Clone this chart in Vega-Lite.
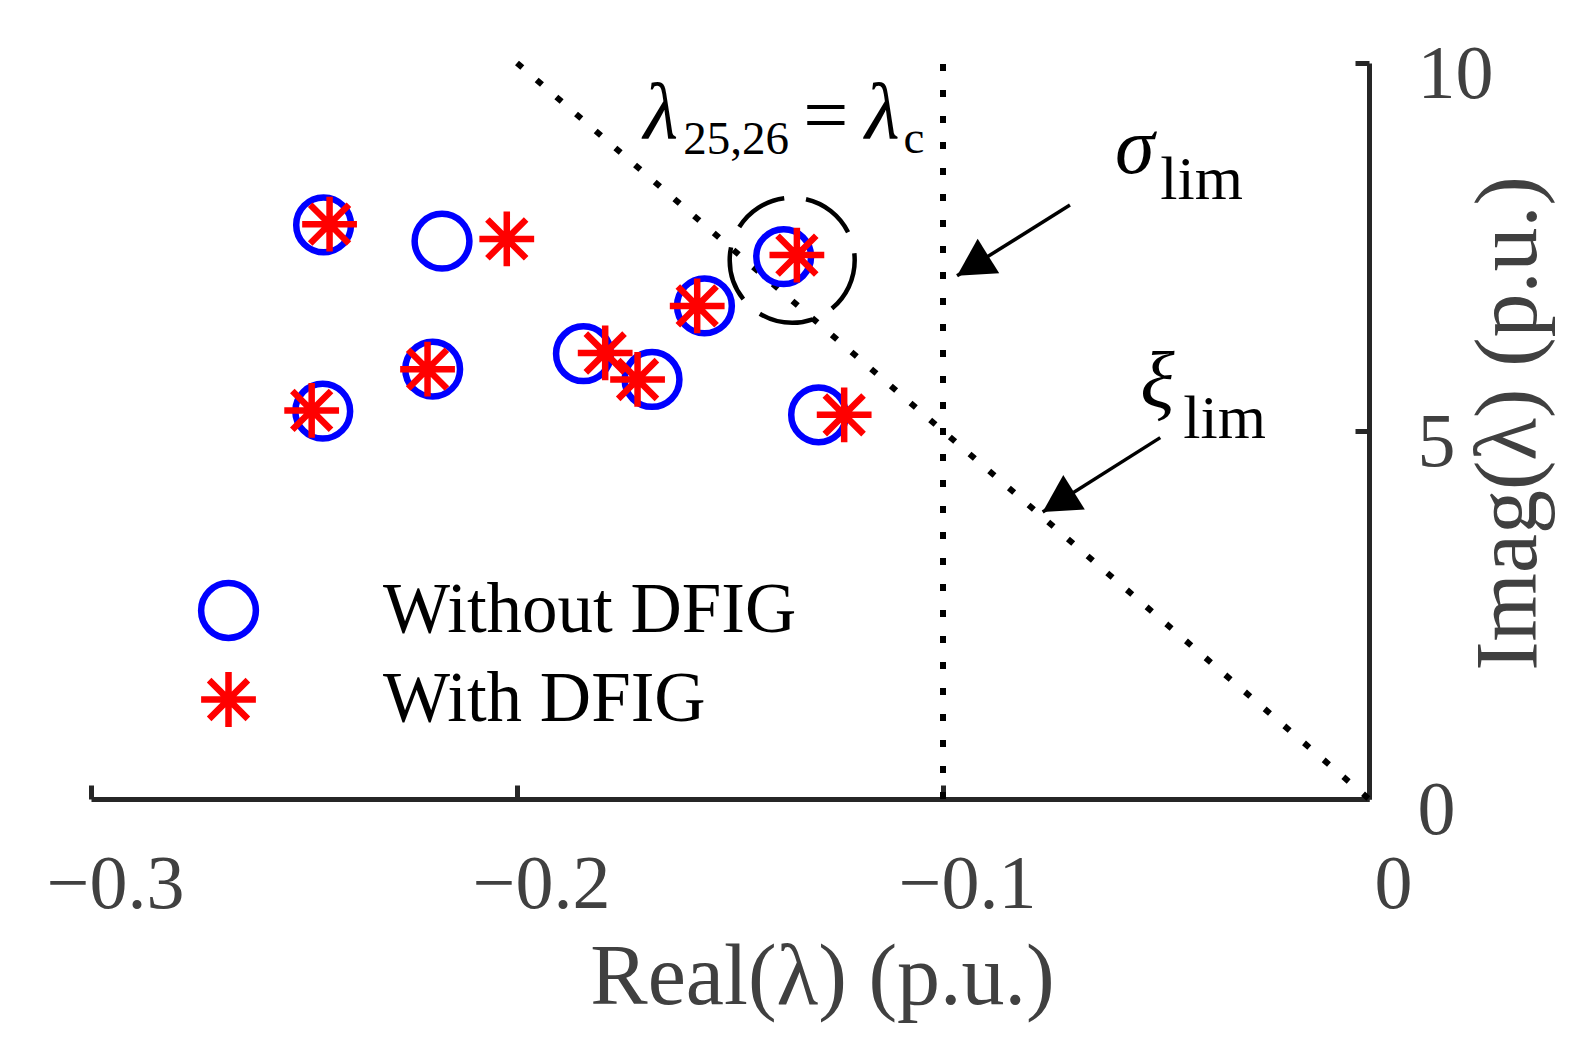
{
  "$schema": "https://vega.github.io/schema/vega-lite/v6.json",
  "width": 1278,
  "height": 736,
  "autosize": {"type": "none"},
  "padding": {"left": 91, "top": 63, "right": 226, "bottom": 261},
  "background": "white",
  "config": {"view": {"stroke": null}, "font": "Liberation Serif"},
  "datasets": {
    "eig": [
      {"series": "Without DFIG", "re": -0.2454, "im": 7.80},
      {"series": "Without DFIG", "re": -0.2176, "im": 7.58},
      {"series": "Without DFIG", "re": -0.2198, "im": 5.84},
      {"series": "Without DFIG", "re": -0.2456, "im": 5.27},
      {"series": "Without DFIG", "re": -0.1844, "im": 6.05},
      {"series": "Without DFIG", "re": -0.1683, "im": 5.70},
      {"series": "Without DFIG", "re": -0.1560, "im": 6.70},
      {"series": "Without DFIG", "re": -0.1374, "im": 7.37},
      {"series": "Without DFIG", "re": -0.1292, "im": 5.22},
      {"series": "With DFIG", "re": -0.2440, "im": 7.81},
      {"series": "With DFIG", "re": -0.2024, "im": 7.61},
      {"series": "With DFIG", "re": -0.2210, "im": 5.84},
      {"series": "With DFIG", "re": -0.2482, "im": 5.28},
      {"series": "With DFIG", "re": -0.1793, "im": 6.06},
      {"series": "With DFIG", "re": -0.1717, "im": 5.70},
      {"series": "With DFIG", "re": -0.1577, "im": 6.70},
      {"series": "With DFIG", "re": -0.1343, "im": 7.39},
      {"series": "With DFIG", "re": -0.1232, "im": 5.22}
    ],
    "limits": [
      {"name": "sigma_lim", "re": -0.1, "im": 0, "re2": -0.1, "im2": 10},
      {"name": "xi_lim", "re": -0.2, "im": 10, "re2": 0, "im2": 0}
    ],
    "highlight": [
      {"name": "lambda_25_26", "re": -0.1354, "im": 7.32}
    ],
    "arrows": [
      {"name": "sigma", "re": -0.0702, "im": 8.07, "re2": -0.0967, "im2": 7.11},
      {"name": "xi", "re": -0.0490, "im": 4.91, "re2": -0.0766, "im2": 3.90}
    ],
    "arrowTips": [
      {"name": "sigma", "re": -0.0967, "im": 7.11},
      {"name": "xi", "re": -0.0766, "im": 3.90}
    ],
    "notes": [
      {"role": "greek", "text": "λ", "re": -0.1703, "im": 8.98},
      {"role": "greek", "text": "λ", "re": -0.1183, "im": 8.98},
      {"role": "greek", "text": "σ", "re": -0.0596, "im": 8.51},
      {"role": "greek", "text": "ξ", "re": -0.0537, "im": 5.33},
      {"role": "sub", "text": "25,26", "re": -0.1610, "im": 8.76},
      {"role": "sub", "text": "c", "re": -0.1093, "im": 8.78},
      {"role": "lim", "text": "lim", "re": -0.0490, "im": 8.15},
      {"role": "lim", "text": "lim", "re": -0.0436, "im": 4.90},
      {"role": "eq", "text": "=", "re": -0.1328, "im": 8.92}
    ]
  },
  "encoding": {
    "x": {
      "field": "re", "type": "quantitative",
      "scale": {"domain": [-0.3, 0], "nice": false, "zero": false},
      "axis": {
        "values": [-0.3, -0.2, -0.1, 0],
        "format": "~g",
        "grid": false,
        "title": "Real(λ) (p.u.)",
        "titleFont": "Liberation Serif",
        "titleFontSize": 86,
        "titleFontWeight": "normal",
        "titleColor": "#404040",
        "titleX": 731,
        "titleY": 204,
        "titleAlign": "center",
        "titleBaseline": "alphabetic",
        "labelFont": "Liberation Serif",
        "labelFontSize": 76,
        "labelColor": "#404040",
        "labelOffset": 24,
        "labelPadding": 122,
        "labelBaseline": "alphabetic",
        "labelFlush": false,
        "labelOverlap": false,
        "domainColor": "#262626",
        "domainWidth": 5,
        "tickColor": "#262626",
        "tickWidth": 5,
        "tickSize": -14
      }
    },
    "y": {
      "field": "im", "type": "quantitative",
      "scale": {"domain": [0, 10], "nice": false, "zero": false},
      "axis": {
        "orient": "right",
        "values": [0, 5, 10],
        "format": "d",
        "grid": false,
        "title": "Imag(λ) (p.u.)",
        "titleFont": "Liberation Serif",
        "titleFontSize": 88,
        "titleFontWeight": "normal",
        "titleColor": "#404040",
        "titleAngle": 270,
        "titleX": 166,
        "titleY": 360,
        "titleAlign": "center",
        "titleBaseline": "alphabetic",
        "labelFont": "Liberation Serif",
        "labelFontSize": 76,
        "labelColor": "#404040",
        "labelOffset": 11,
        "labelPadding": 62,
        "labelAlign": "left",
        "labelFlush": false,
        "labelOverlap": false,
        "domainColor": "#262626",
        "domainWidth": 5,
        "tickColor": "#262626",
        "tickWidth": 5,
        "tickSize": -14
      }
    }
  },
  "layer": [
    {
      "data": {"name": "limits"},
      "mark": {"type": "rule", "color": "black", "strokeWidth": 6, "strokeDash": [7, 19]},
      "encoding": {
        "x2": {"field": "re2"},
        "y2": {"field": "im2"}
      }
    },
    {
      "data": {"name": "highlight"},
      "mark": {"type": "point", "shape": "circle", "filled": false, "size": 15625, "stroke": "black", "strokeWidth": 4.5, "strokeDash": [55, 22], "opacity": 1}
    },
    {
      "data": {"name": "eig"},
      "mark": {"type": "point", "filled": false, "strokeWidth": 6.5, "size": 3000, "opacity": 1},
      "encoding": {
        "color": {
          "field": "series", "type": "nominal",
          "scale": {"domain": ["Without DFIG", "With DFIG"], "range": ["#0000ff", "#ff0000"]},
          "legend": {
            "orient": "none",
            "legendX": 102,
            "legendY": 512,
            "title": null,
            "padding": 0,
            "labelFont": "Liberation Serif",
            "labelFontSize": 71,
            "labelColor": "black",
            "labelLimit": 1000,
            "labelOffset": 119,
            "rowPadding": 8,
            "symbolSize": 3000,
            "symbolStrokeWidth": 6.5
          }
        },
        "shape": {
          "field": "series", "type": "nominal",
          "scale": {"domain": ["Without DFIG", "With DFIG"], "range": ["circle", "M0,-1L0,1M-1,0L1,0M-0.707,-0.707L0.707,0.707M-0.707,0.707L0.707,-0.707"]}
        }
      }
    },
    {
      "data": {"name": "arrows"},
      "mark": {"type": "rule", "color": "black", "strokeWidth": 3.5},
      "encoding": {
        "x2": {"field": "re2"},
        "y2": {"field": "im2"}
      }
    },
    {
      "data": {"name": "arrowTips"},
      "mark": {"type": "point", "shape": "M0,0L-0.55,1L0.55,1Z", "filled": true, "color": "black", "size": 5476, "angle": 238, "opacity": 1}
    },
    {
      "data": {"name": "notes"},
      "transform": [{"filter": "datum.role === 'greek'"}],
      "mark": {"type": "text", "align": "left", "baseline": "alphabetic", "font": "Liberation Serif", "fontStyle": "italic", "fontSize": 80, "color": "black"},
      "encoding": {"text": {"field": "text"}}
    },
    {
      "data": {"name": "notes"},
      "transform": [{"filter": "datum.role === 'sub'"}],
      "mark": {"type": "text", "align": "left", "baseline": "alphabetic", "font": "Liberation Serif", "fontSize": 47, "color": "black"},
      "encoding": {"text": {"field": "text"}}
    },
    {
      "data": {"name": "notes"},
      "transform": [{"filter": "datum.role === 'lim'"}],
      "mark": {"type": "text", "align": "left", "baseline": "alphabetic", "font": "Liberation Serif", "fontSize": 62, "color": "black"},
      "encoding": {"text": {"field": "text"}}
    },
    {
      "data": {"name": "notes"},
      "transform": [{"filter": "datum.role === 'eq'"}],
      "mark": {"type": "text", "align": "left", "baseline": "alphabetic", "font": "Liberation Serif", "fontSize": 80, "color": "black"},
      "encoding": {"text": {"field": "text"}}
    }
  ]
}
